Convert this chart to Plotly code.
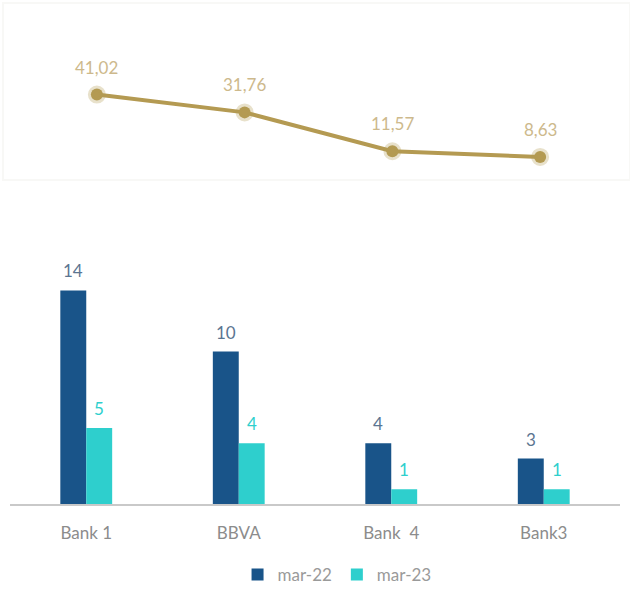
import plotly.graph_objects as go

# Categories and values
banks = ["Bank 1", "BBVA", "Bank  4", "Bank3"]
ratio_values = [41.02, 31.76, 11.57, 8.63]
ratio_labels = ["41,02", "31,76", "11,57", "8,63"]
mar22 = [14, 10, 4, 3]
mar23 = [5, 4, 1, 1]

W, H = 630, 593
FONT = "Lato"
GOLD = "#b49a52"
GOLD_TXT = "#cdb98c"
DARK = "#195489"
TEAL = "#2ecfcd"
DARK_TXT = "#5b7591"
GREY_TXT = "#8c8c8c"

fig = go.Figure()

# Bars (bottom panel)
fig.add_trace(go.Bar(x=banks, y=mar22, name="mar-22", marker=dict(color=DARK, line=dict(width=0)),
                     xaxis="x", yaxis="y"))
fig.add_trace(go.Bar(x=banks, y=mar23, name="mar-23", marker=dict(color=TEAL, line=dict(width=0)),
                     xaxis="x", yaxis="y"))

# Line (top panel)
fig.add_trace(go.Scatter(x=banks, y=ratio_values, mode="lines+markers",
                         line=dict(color=GOLD, width=4),
                         marker=dict(size=12, color=GOLD,
                                     line=dict(color="rgba(180,154,82,0.3)", width=6)),
                         showlegend=False, xaxis="x2", yaxis="y2", cliponaxis=False))

annotations = []
# Line value labels
for i, b in enumerate(banks):
    annotations.append(dict(x=b, y=ratio_values[i], xref="x2", yref="y2", text=ratio_labels[i],
                            showarrow=False, yanchor="bottom", yshift=15,
                            font=dict(family=FONT, size=17, color=GOLD_TXT)))
# Value labels above bars
for i, b in enumerate(banks):
    annotations.append(dict(x=b, y=mar22[i], xref="x", yref="y", text=str(mar22[i]),
                            showarrow=False, yanchor="bottom", yshift=7, xshift=-13,
                            font=dict(family=FONT, size=17, color=DARK_TXT)))
    annotations.append(dict(x=b, y=mar23[i], xref="x", yref="y", text=str(mar23[i]),
                            showarrow=False, yanchor="bottom", yshift=7, xshift=13,
                            font=dict(family=FONT, size=17, color=TEAL)))

def py(p):
    return (H - p) / H

fig.update_layout(
    width=W, height=H,
    margin=dict(l=0, r=0, t=0, b=0),
    paper_bgcolor="white", plot_bgcolor="white",
    font=dict(family=FONT, color=GREY_TXT),
    barmode="group", bargap=0.66, bargroupgap=0,
    xaxis=dict(domain=[10 / W, 620 / W], range=[-0.5, 3.5], showline=True,
               linecolor="#c9c9c9", linewidth=2, showgrid=False, zeroline=False,
               ticks="", ticklabelstandoff=12,
               tickfont=dict(family=FONT, size=17, color=GREY_TXT)),
    yaxis=dict(domain=[py(507), py(260)], range=[0, (507 - 260) / 15.36],
               visible=False, showgrid=False, zeroline=False),
    xaxis2=dict(domain=[23 / W, 614 / W], range=[-0.5, 3.5], visible=False,
                anchor="y2"),
    yaxis2=dict(domain=[py(174.4), py(40)], range=[0, (174.4 - 40) / 1.935],
                visible=False, anchor="x2"),
    legend=dict(orientation="h", x=0.535, xanchor="center", y=py(578), yanchor="middle",
                font=dict(family=FONT, size=17, color="#9a9a9a"),
                itemwidth=30, tracegroupgap=0, bgcolor="rgba(0,0,0,0)"),
    annotations=annotations,
    shapes=[dict(type="rect", xref="paper", yref="paper", x0=3 / W, x1=1, y0=py(181), y1=py(3),
                 line=dict(color="#f8f8f6", width=2), fillcolor="rgba(0,0,0,0)", layer="below")],
)

fig.write_html("out.html")
